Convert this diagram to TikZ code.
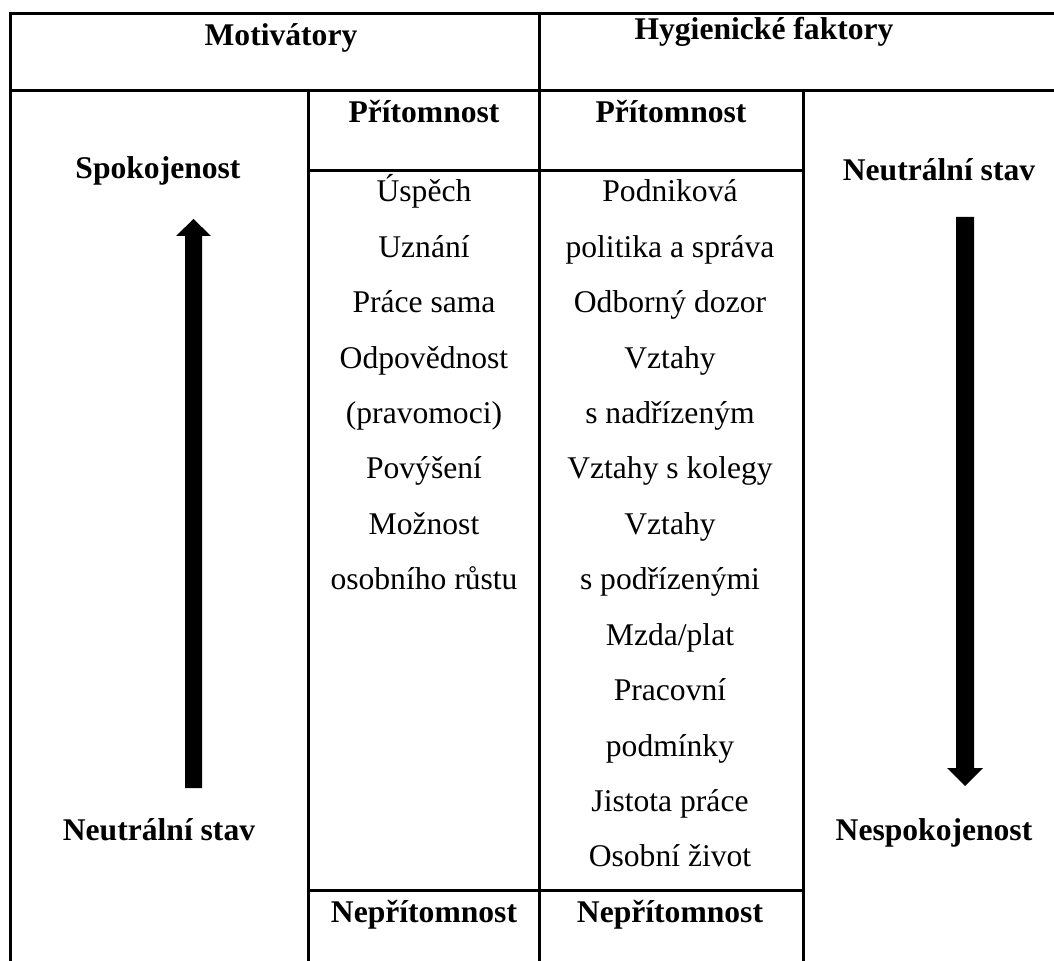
\documentclass[tikz,border=0pt]{standalone}
\usepackage{fontspec}
\setmainfont{Liberation Serif}
\tikzset{
  grid/.style={line width=1.5pt, line cap=rect},
  hdr/.style={font=\fontsize{15.8pt}{19pt}\selectfont\bfseries, anchor=base, inner sep=0pt},
  item/.style={font=\fontsize{15.8pt}{19pt}\selectfont, anchor=base, inner sep=0pt},
  bigarrow/.style={fill=black, draw=none}
}
\begin{document}
\begin{tikzpicture}[x=0.5pt, y=-0.5pt]
\useasboundingbox (0,0) rectangle (1054,961);
% grid
\draw[grid] (10,14) -- (1054,14);
\draw[grid] (10,91) -- (1054,91);
\draw[grid] (10,14) -- (10,961);
\draw[grid] (539,14) -- (539,961);
\draw[grid] (308,91) -- (308,961);
\draw[grid] (803,91) -- (803,961);
\draw[grid] (308,171) -- (803,171);
\draw[grid] (308,890) -- (803,890);
% headers
\node[hdr] (mot) at (281,46) {Motivátory};
\node[hdr] (hyg) at (764,40) {Hygienické faktory};
\node[hdr] (pritL) at (424,123) {Přítomnost};
\node[hdr] (pritR) at (671,123) {Přítomnost};
\node[hdr] (spok) at (158,179) {Spokojenost};
\node[hdr] (neutR) at (939,181) {Neutrální stav};
\node[hdr] (neutL) at (159,840) {Neutrální stav};
\node[hdr] (nespok) at (934,840) {Nespokojenost};
\node[hdr] (nepL) at (424,922) {Nepřítomnost};
\node[hdr] (nepR) at (670,922) {Nepřítomnost};
% items
\foreach \t [count=\i] in {{Úspěch},{Uznání},{Práce sama},{Odpovědnost},{(pravomoci)},{Povýšení},{Možnost},{osobního růstu}}
  \node[item] (m\i) at (424,{202+55.4*(\i-1)}) {\t};
\foreach \t [count=\i] in {{Podniková},{politika a správa},{Odborný dozor},{Vztahy},{s nadřízeným},{Vztahy s kolegy},{Vztahy},{s podřízenými},{Mzda/plat},{Pracovní},{podmínky},{Jistota práce},{Osobní život}}
  \node[item] (h\i) at (670,{202+55.4*(\i-1)}) {\t};
% arrows
\coordinate (upTip) at (193.5,219);
\coordinate (upEnd) at (193.5,788);
\coordinate (dnTip) at (965,786);
\coordinate (dnEnd) at (965,217);
\fill[bigarrow] ([xshift=-8.5*0.5pt]upEnd) -- ([xshift=-8.5*0.5pt,yshift=-17*0.5pt]upTip) -- ([xshift=-17.5*0.5pt,yshift=-17*0.5pt]upTip) -- (upTip) -- ([xshift=17.5*0.5pt,yshift=-17*0.5pt]upTip) -- ([xshift=8.5*0.5pt,yshift=-17*0.5pt]upTip) -- ([xshift=8.5*0.5pt]upEnd) -- cycle;
\fill[bigarrow] ([xshift=-9*0.5pt]dnEnd) -- ([xshift=-9*0.5pt,yshift=18*0.5pt]dnTip) -- ([xshift=-18*0.5pt,yshift=18*0.5pt]dnTip) -- (dnTip) -- ([xshift=18*0.5pt,yshift=18*0.5pt]dnTip) -- ([xshift=9*0.5pt,yshift=18*0.5pt]dnTip) -- ([xshift=9*0.5pt]dnEnd) -- cycle;
\end{tikzpicture}
\end{document}
